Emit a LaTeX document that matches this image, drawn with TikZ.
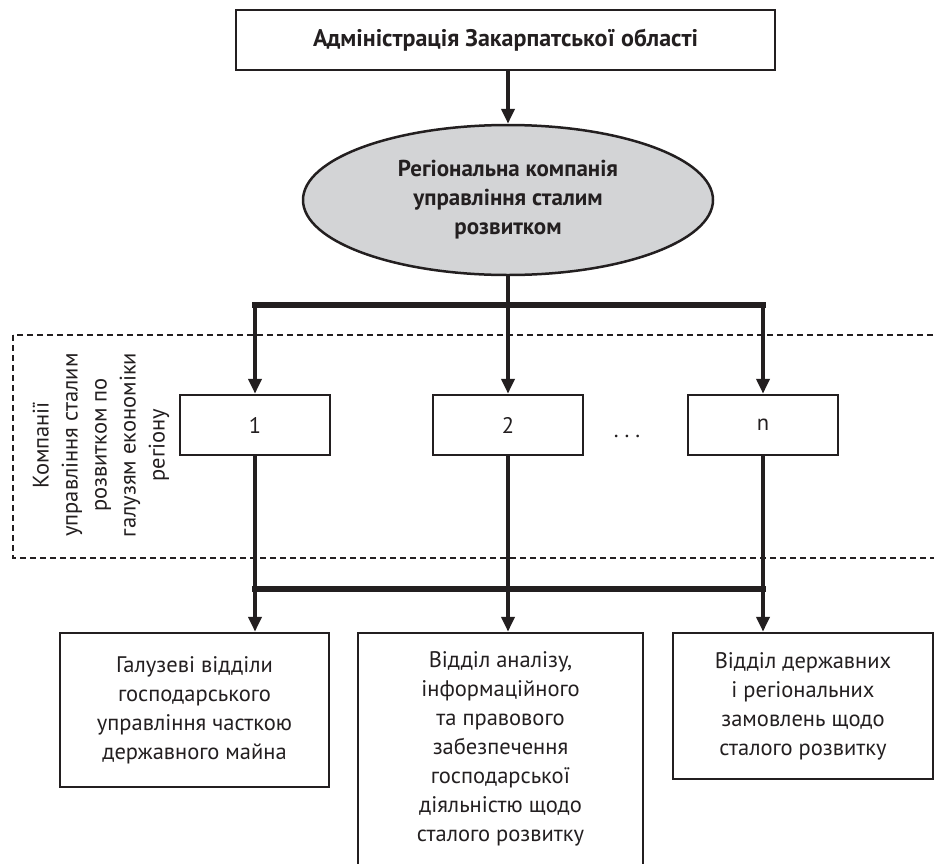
\documentclass[tikz,border=0pt]{standalone}
\usepackage{fontspec}
\setmainfont{PT Sans}
\usepackage{xcolor}
\usetikzlibrary{positioning,arrows.meta,shapes.geometric}
\definecolor{ink}{RGB}{35,31,32}
\definecolor{fillgray}{RGB}{211,212,214}
\begin{document}
\begin{tikzpicture}[x=1pt,y=-1pt,
            every node/.append style = {align=center, text=ink, font=\fontsize{22.5}{29}\selectfont},
            box/.style = {draw=ink, line width=2.5pt, rectangle, inner sep=0pt},
            conn/.style = {draw=ink, line width=4pt},
            arrow/.style = {conn, -{Triangle[length=15pt,width=13pt]}},
            bar/.style = {draw=ink, line width=5.5pt, line cap=rect}]
            \useasboundingbox (0,0) rectangle (934,863);
            % upper part
            \node[box, minimum width=539pt, minimum height=60pt, font=\fontsize{24}{29}\selectfont\bfseries]
                (admin) at (505.5,40) {Адміністрація Закарпатської області};
            \node[draw=ink, line width=2.5pt, fill=fillgray, ellipse, minimum width=410pt, minimum height=150pt,
                inner sep=0pt, font=\fontsize{23}{29}\selectfont\bfseries]
                (company) at (508,200) {Регіональна компанія\\управління сталим\\розвитком};
            % dashed frame of the branch companies
            \draw[ink, line width=2pt, dash pattern=on 6pt off 4pt] (13,335) rectangle (960,558);
            \node[rotate=90, font=\fontsize{22.5}{29}\selectfont] (frame) at (101,445)
                {Компанії\\управління сталим\\розвитком по\\галузям економіки\\регіону};
            \node[box, minimum width=150pt, minimum height=60pt] (unit1) at (255,425) {1};
            \node[box, minimum width=150pt, minimum height=60pt] (unit2) at (508,425) {2};
            \node[box, minimum width=150pt, minimum height=60pt] (unitn) at (763,425) {n};
            \node[anchor=base] (dots) at (627,437) {.\ .\ .};
            % lower part
            \node[box, minimum width=269pt, minimum height=154pt] (deptA) at (194.5,710)
                {Галузеві відділи\\господарського\\управління часткою\\державного майна};
            \node[box, minimum width=285pt, minimum height=232pt] (deptB) at (500.5,749)
                {Відділ аналізу,\\інформаційного\\та правового\\забезпечення\\господарської\\діяльністю щодо\\сталого розвитку};
            \node[box, minimum width=260pt, minimum height=146pt] (deptC) at (803,706)
                {Відділ державних\\і регіональних\\замовлень щодо\\сталого розвитку};
            \coordinate (split) at (508,305);
            \coordinate (join) at (508,589);
            % connectors
            \draw[arrow] (admin.south -| company.north) -- (company.north);
            \draw[conn] (company.south) -- (split);
            \draw[bar] (split -| unit1) -- (split -| unitn);
            \foreach \u in {unit1,unit2,unitn} {
                \draw[arrow] (split -| \u) -- (\u.north);
                \draw[conn] (\u.south) -- (join -| \u);
            }
            \draw[bar] (join -| unit1) -- (join -| unitn);
            \draw[arrow] (join -| unit1) -- (unit1 |- deptA.north);
            \draw[arrow] (join -| unit2) -- (unit2 |- deptB.north);
            \draw[arrow] (join -| unitn) -- (unitn |- deptC.north);
        \end{tikzpicture}
\end{document}
